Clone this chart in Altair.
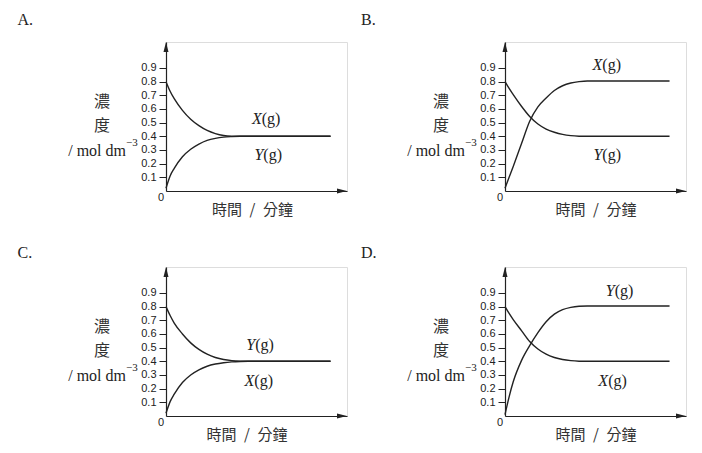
import altair as alt
import pandas as pd

# ---- data ----
T = [0, 0.25, 0.5, 1, 1.5, 2, 2.5, 3, 3.5, 4, 4.5, 5, 6, 10]

A_X = [0.80, 0.73, 0.675, 0.59, 0.525, 0.478, 0.443, 0.42, 0.406, 0.401, 0.40, 0.40, 0.40, 0.40]
A_Y = [0.02, 0.11, 0.165, 0.25, 0.305, 0.343, 0.37, 0.385, 0.394, 0.398, 0.40, 0.40, 0.40, 0.40]

B_X = [0.02, 0.10, 0.18, 0.345, 0.51, 0.615, 0.68, 0.735, 0.77, 0.79, 0.80, 0.805, 0.805, 0.805]
B_Y = [0.80, 0.75, 0.705, 0.62, 0.545, 0.49, 0.453, 0.43, 0.414, 0.405, 0.401, 0.40, 0.40, 0.40]

C_Y = [0.80, 0.735, 0.68, 0.60, 0.535, 0.487, 0.452, 0.428, 0.413, 0.405, 0.401, 0.40, 0.40, 0.40]
C_X = [0.02, 0.105, 0.16, 0.245, 0.30, 0.338, 0.364, 0.38, 0.39, 0.396, 0.399, 0.40, 0.40, 0.40]

D_X = [0.80, 0.75, 0.705, 0.625, 0.545, 0.49, 0.452, 0.428, 0.413, 0.405, 0.401, 0.40, 0.40, 0.40]
D_Y = [0.01, 0.14, 0.25, 0.405, 0.515, 0.61, 0.69, 0.745, 0.778, 0.795, 0.803, 0.805, 0.805, 0.805]

Y_TICKS = [0.1, 0.2, 0.3, 0.4, 0.5, 0.6, 0.7, 0.8, 0.9]
PANELS = ["A.", "B.", "C.", "D."]
SERIES_NAMES = ["X", "Y"]
Y_TITLE = ["濃", "度", "/ mol dm", "−3"]
X_TITLE = "時間\u2002/\u2002分鐘"

# label anchor (time, concentration) for the X and Y series in each panel
LABEL_POS = {
    "A.": {"X": (6.0, 0.527), "Y": (6.1, 0.263)},
    "B.": {"X": (6.1, 0.925), "Y": (6.1, 0.267)},
    "C.": {"X": (5.55, 0.256), "Y": (5.6, 0.52)},
    "D.": {"X": (6.45, 0.256), "Y": (6.85, 0.914)},
}

# ---- geometry / style ----
W, H = 181, 149
XMAX, YMAX = 11, 1.09
INK = "#222222"
SERIF = "Liberation Serif"
SANS = "Liberation Sans"
CJK = "Noto Sans CJK TC"

xs = alt.Scale(domain=[0, XMAX], nice=False, zero=False)
ys = alt.Scale(domain=[0, YMAX], nice=False, zero=False)
x_axis = alt.Axis(values=[0], labels=False, ticks=False, grid=False, title=None,
                  domainColor=INK, domainWidth=1.2)
y_axis = alt.Axis(values=Y_TICKS, format=".1f", grid=False, title=None,
                  tickSize=7, tickColor=INK, tickWidth=1, labelPadding=3,
                  labelFont=SANS, labelFontSize=11, labelColor=INK,
                  domainColor=INK, domainWidth=1.2)


def xe(field="t"):
    return alt.X(f"{field}:Q", scale=xs, axis=x_axis)


def ye(field="v"):
    return alt.Y(f"{field}:Q", scale=ys, axis=y_axis)


def one(**kw):
    return alt.Data(values=[kw if kw else {"k": 0}])


def panel(name, xvals, yvals, letter_x, letter_y, xtitle_x):
    n = len(T)
    df = pd.DataFrame({
        "t": T + T,
        "v": list(xvals) + list(yvals),
        "s": [SERIES_NAMES[0]] * n + [SERIES_NAMES[1]] * n,
    })
    lines = alt.Chart(df).mark_line(color=INK, strokeWidth=1.4, interpolate="monotone").encode(
        x=xe(), y=ye(), detail="s:N")

    arrow_up = alt.Chart(one(t=0, v=YMAX)).mark_point(
        shape="M0,0L-0.5,2L0.5,2Z", size=100, filled=True, color=INK, opacity=1, strokeWidth=0
    ).encode(x=xe(), y=ye())
    arrow_right = alt.Chart(one(t=XMAX, v=0)).mark_point(
        shape="M0,0L-2,-0.5L-2,0.5Z", size=100, filled=True, color=INK, opacity=1, strokeWidth=0
    ).encode(x=xe(), y=ye())

    zero = alt.Chart(one(t=0, v=0)).mark_text(
        text="0", font=SANS, fontSize=11, color=INK, dx=-5, dy=7, align="center", baseline="middle"
    ).encode(x=xe(), y=ye())

    lab_rows = []
    for s in SERIES_NAMES:
        tt, vv = LABEL_POS[name][s]
        lab_rows.append({"t": tt, "v": vv, "s": s})
    lab_df = pd.DataFrame(lab_rows)
    lab_letter = alt.Chart(lab_df).mark_text(
        font=SERIF, fontSize=16, fontStyle="italic", color=INK, align="right", baseline="middle", dx=-3
    ).encode(x=xe(), y=ye(), text="s:N")
    lab_g = alt.Chart(lab_df).mark_text(
        text="(g)", font=SERIF, fontSize=16, color=INK, align="left", baseline="middle", dx=-3
    ).encode(x=xe(), y=ye())

    letter = alt.Chart(one()).mark_text(
        text=name, font=SERIF, fontSize=16, color=INK, align="left", baseline="middle",
        x=letter_x, y=letter_y)
    yt1 = alt.Chart(one()).mark_text(text=Y_TITLE[0], font=CJK, fontSize=16, color="#333333",
                                     align="center", baseline="middle", x=-64, y=59.5)
    yt2 = alt.Chart(one()).mark_text(text=Y_TITLE[1], font=CJK, fontSize=16, color="#333333",
                                     align="center", baseline="middle", x=-64, y=84)
    yt3 = alt.Chart(one()).mark_text(text=Y_TITLE[2], font=SERIF, fontSize=16, color=INK,
                                     align="right", baseline="middle", x=-40, y=108.5)
    yt4 = alt.Chart(one()).mark_text(text=Y_TITLE[3], font=SERIF, fontSize=11, color=INK,
                                     align="left", baseline="middle", x=-40, y=101)
    xt = alt.Chart(one()).mark_text(text=X_TITLE, font=CJK, fontSize=15, color="#333333",
                                    align="center", baseline="middle", x=xtitle_x, y=H + 18.5)

    return alt.layer(lines, arrow_up, arrow_right, zero, lab_letter, lab_g,
                     letter, yt1, yt2, yt3, yt4, xt).properties(width=W, height=H)


pA = panel("A.", A_X, A_Y, -148.5, -22, 86.5)
pB = panel("B.", B_X, B_Y, -144, -22.5, 91)
pC = panel("C.", C_X, C_Y, -148.5, -14.5, 81)
pD = panel("D.", D_X, D_Y, -144, -14.5, 91)

chart = alt.concat(pA, pB, pC, pD, columns=2, spacing={"row": 76, "column": 158},
                   bounds="flush").properties(
    padding={"left": 9, "top": 3, "right": 2, "bottom": 2}
).configure_view(stroke=None).configure(background="white")

chart.save("out.html", embed_options={"renderer": "svg", "actions": False})
